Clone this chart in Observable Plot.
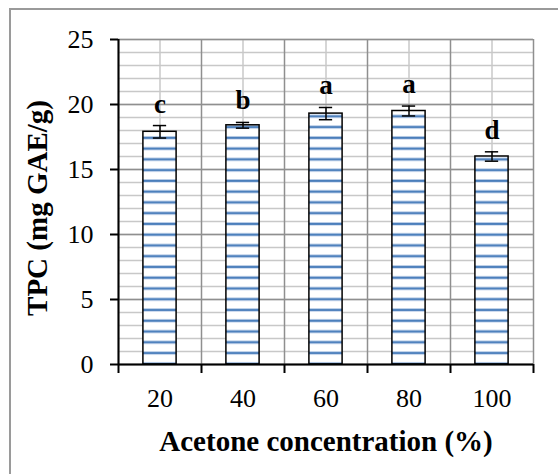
<!DOCTYPE html>
<html><head><meta charset="utf-8">
<script src="https://cdn.jsdelivr.net/npm/d3@7"></script>
<script src="https://cdn.jsdelivr.net/npm/@observablehq/plot@0.6"></script>
<style>
html,body{margin:0;padding:0;background:#fff;}
#chart{width:558px;height:474px;overflow:hidden;background:#fff;}
</style></head><body>
<div id="chart"></div>
<script>
const concentrations = [20, 40, 60, 80, 100];
const tpc = [17.9, 18.4, 19.3, 19.5, 16.0];
const errors = [0.48, 0.22, 0.47, 0.38, 0.36];
const letters = ["c", "b", "a", "a", "d"];
const yTicks = [0, 5, 10, 15, 20, 25];
const yMinor = d3.range(0, 26, 1);
const xBoundaries = [10, 30, 50, 70, 90, 110];
const xLabel = "Acetone concentration (%)";
const yLabel = "TPC (mg GAE/g)";

const data = concentrations.map((c, i) => ({c, v: tpc[i], e: errors[i], l: letters[i]}));
const halfBar = 4;   // bar half-width in x units
const capHalf = 1.6; // error cap half-width in x units

const font = "'Liberation Serif', 'Times New Roman', serif";

const chart = Plot.plot({
  width: 558,
  height: 474,
  marginLeft: 118,
  marginRight: 25,
  marginTop: 39,
  marginBottom: 110,
  style: {fontFamily: font, background: "#fff", overflow: "visible"},
  x: {type: "linear", domain: [10, 110]},
  y: {domain: [0, 25]},
  marks: [
    Plot.ruleY(yMinor, {stroke: "#c8c8c8", strokeWidth: 1.5}),
    Plot.ruleX(concentrations, {stroke: "#c8c8c8", strokeWidth: 1.5}),
    Plot.ruleY(yTicks, {stroke: "#8f8f8f", strokeWidth: 1.5}),
    Plot.ruleX(xBoundaries, {stroke: "#8f8f8f", strokeWidth: 1.5}),
    Plot.rectY(data, {x1: d => d.c - halfBar, x2: d => d.c + halfBar, y1: 0, y2: "v", fill: "url(#hstripes)", stroke: "#000", strokeWidth: 1.5}),
    Plot.ruleX(data, {x: "c", y1: d => d.v - d.e, y2: d => d.v + d.e, stroke: "#000", strokeWidth: 1.5}),
    Plot.ruleY(data, {y: d => d.v - d.e, x1: d => d.c - capHalf, x2: d => d.c + capHalf, stroke: "#000", strokeWidth: 1.5}),
    Plot.ruleY(data, {y: d => d.v + d.e, x1: d => d.c - capHalf, x2: d => d.c + capHalf, stroke: "#000", strokeWidth: 1.5}),
    Plot.text(data, {x: "c", y: d => d.v + d.e, text: "l", dy: -13, lineAnchor: "bottom", fontSize: 27, fontWeight: "bold", fill: "#000"}),
    Plot.ruleX([10], {stroke: "#000", strokeWidth: 2}),
    Plot.ruleY([0], {stroke: "#000", strokeWidth: 2}),
    Plot.axisY({ticks: yTicks, tickSize: 8, tickPadding: 17, fontSize: 26, strokeWidth: 2, label: null, color: "#000"}),
    Plot.axisX({ticks: xBoundaries, tickSize: 9, tickFormat: () => "", strokeWidth: 2, label: null}),
    Plot.axisX({ticks: concentrations, tickSize: 0, tickPadding: 24, fontSize: 26, label: null, color: "#000"}),
    Plot.text([xLabel], {frameAnchor: "bottom", dy: 86, lineAnchor: "bottom", fontSize: 29, fontWeight: "bold", fill: "#000"}),
    Plot.text([yLabel], {frameAnchor: "left", textAnchor: "middle", lineAnchor: "middle", dx: -81, dy: 6, rotate: -90, fontSize: 29, fontWeight: "bold", fill: "#000"})
  ]
});

const svg = d3.select(chart);
const defs = svg.insert("defs", ":first-child");
const pat = defs.append("pattern")
  .attr("id", "hstripes")
  .attr("patternUnits", "userSpaceOnUse")
  .attr("x", 0).attr("y", 0)
  .attr("width", 10).attr("height", 10.76);
pat.append("rect").attr("x", 0).attr("y", 0).attr("width", 10).attr("height", 10.76).attr("fill", "#ffffff");
pat.append("rect").attr("x", 0).attr("y", 6.9).attr("width", 10).attr("height", 3.6).attr("fill", "#c6d6ec");
pat.append("rect").attr("x", 0).attr("y", 7.7).attr("width", 10).attr("height", 2).attr("fill", "#4a7ebb");

// chart-area border (left and top edges of the outer frame)
svg.append("path")
  .attr("d", "M10,480V9H560")
  .attr("fill", "none")
  .attr("stroke", "#9a9a9a")
  .attr("stroke-width", 2);

document.getElementById("chart").appendChild(chart);
</script>
</body></html>
